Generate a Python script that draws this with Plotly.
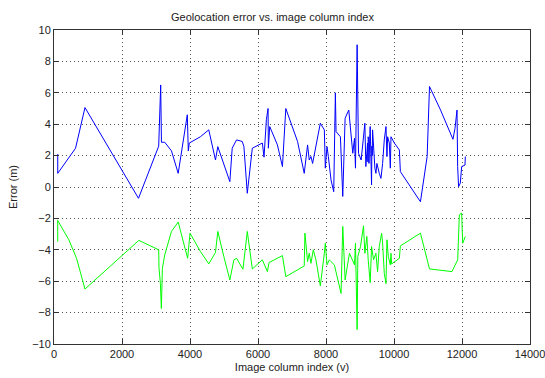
import plotly.graph_objects as go

# Blue series: upper error curve
x_blue = [110, 110, 634, 911, 2485, 3079, 3138, 3160, 3257, 3455, 3653, 3921, 3950, 3980,
          4305, 4552, 4749, 4818, 5172, 5241, 5369, 5537, 5586, 5685, 5833, 6128, 6177, 6246,
          6296, 6305, 6345, 6571, 6719, 6818, 7163, 7360, 7458, 7507, 7557, 7606, 7833, 7951,
          7980, 8030, 8069, 8148, 8227, 8276, 8296, 8424, 8493, 8562, 8670, 8788, 8838, 8867,
          8916, 8936, 8956, 9034, 9143, 9172, 9222, 9232, 9240, 9248, 9256, 9264, 9271, 9280,
          9290, 9300, 9310, 9320, 9330, 9340, 9350, 9360, 9370, 9399, 9438, 9468,
          9497, 9567, 9616, 9665, 9714, 9764, 9793, 9813, 9862, 9892, 9911, 10010, 10158,
          10187, 10778, 10975, 10995, 11044, 11369, 11734, 11794, 11824, 11853, 11872, 11900,
          11950, 11990, 12088, 12098]
y_blue = [2.1, 0.87, 2.47, 5.06, -0.72, 2.6, 6.5, 2.85, 2.85, 2.3, 0.87, 4.6, 2.3, 2.8,
          3.2, 3.64, 1.72, 2.57, 0.34, 2.47, 3.0, 2.9, 2.57, -0.4, 2.47, 2.8, 1.9, 4.28,
          5.0, 2.47, 3.85, 2.68, 1.3, 5.0, 2.9, 0.87, 2.68, 1.72, 1.94, 1.5, 4.06, 3.64,
          1.2, 2.57, 1.94, 0.45, -0.3, 6.0, 3.53, 3.2, -0.6, 4.38, 4.9, 2.15, 3.1, 1.2,
          9.06, 6.0, 2.15, 1.72, 4.06, 1.3, 2.8, 1.6, 3.2, 1.8, 3.0, 1.5, 2.9, 1.9,
          3.4, 3.85, 2.0, 2.8, 1.6, 0.13, 2.6, 2.0, 3.64, 2.15, 1.2, 0.87,
          1.5, 0.87, 0.55, 1.5, 3.0, 3.85, 1.94, 3.2, 2.8, 1.2, 3.2, 2.8, 2.36,
          0.98, -0.94, 1.94, 3.1, 6.4, 4.9, 3.04, 3.74, 4.38, 4.9, 1.3, 0.02,
          0.25, 1.3, 1.4, 1.94]

# Green series: lower error curve
x_green = [109, 109, 436, 663, 911, 2495, 3079, 3089, 3129, 3158, 3188, 3257, 3455, 3653,
           3931, 3950, 4000, 4305, 4552, 4749, 4818, 4995, 5172, 5291, 5369, 5557, 5685,
           5833, 6128, 6276, 6325, 6719, 6818, 7360, 7380, 7458, 7507, 7557, 7626, 7704,
           7833, 7951, 7980, 8030, 8098, 8148, 8246, 8443, 8493, 8562, 8690, 8838, 8867,
           8916, 8936, 9015, 9103, 9143, 9202, 9241, 9300, 9340, 9399, 9468, 9517, 9567,
           9636, 9665, 9714, 9764, 9793, 9833, 9892, 9911, 9931, 10158, 10187, 10778,
           11044, 11704, 11873, 11922, 11990, 12020, 12098]
y_green = [-3.47, -2.13, -3.36, -4.54, -6.5, -3.4, -4.0, -5.18, -6.14, -7.74, -5.18, -4.32,
           -2.83, -2.23, -4.54, -3.9, -2.94, -4.1, -4.9, -4.17, -2.83, -4.43, -5.92, -4.64,
           -4.54, -5.24, -2.83, -5.22, -4.64, -5.39, -4.81, -4.37, -5.71, -5.03, -2.94,
           -4.75, -4.22, -4.86, -4.0, -4.64, -6.3, -4.22, -3.58, -4.96, -4.64, -4.75, -4.96,
           -6.78, -2.51, -5.92, -4.22, -4.96, -3.58, -9.08, -4.43, -3.79, -2.47, -4.22,
           -3.15, -4.64, -6.09, -3.79, -4.64, -4.22, -5.39, -3.79, -2.94, -3.58, -5.5,
           -6.15, -3.36, -4.43, -4.96, -4.22, -4.9, -4.54, -3.75, -2.94, -5.22, -5.39,
           -4.64, -1.77, -1.66, -3.58, -3.15]

title_text = "Geolocation error vs. image column index"
x_label = "Image column index (v)"
y_label = "Error (m)"

font = "Liberation Sans, Arial, sans-serif"

fig = go.Figure()
fig.add_trace(go.Scatter(x=x_blue, y=y_blue, mode="lines",
                         line=dict(color="#0000ff", width=1), showlegend=False))
fig.add_trace(go.Scatter(x=x_green, y=y_green, mode="lines",
                         line=dict(color="#00ff00", width=1), showlegend=False))

axis_common = dict(
    showgrid=True, gridcolor="#555555", griddash="1px,3px", gridwidth=1,
    zeroline=False, showline=True, linecolor="#333333", linewidth=1, mirror="ticks",
    ticks="inside", ticklen=5, tickcolor="#333333", ticklabeloverflow="allow",
    automargin=False,
    tickfont=dict(family=font, size=11, color="#222222"),
)

fig.update_layout(
    width=545, height=378,
    margin=dict(l=54, r=15, t=30, b=34),
    paper_bgcolor="white", plot_bgcolor="white",
    title=dict(text=title_text, x=0.5, xanchor="center", y=0.955, yanchor="middle",
               font=dict(family=font, size=11, color="#222222")),
    xaxis=dict(range=[0, 14000], dtick=2000, tick0=0, tickformat="d",
               title=dict(text=x_label, standoff=4, font=dict(family=font, size=11, color="#222222")),
               **axis_common),
    yaxis=dict(range=[-10, 10], dtick=2, tick0=-10,
               title=dict(text=y_label, standoff=12, font=dict(family=font, size=11, color="#222222")),
               **axis_common),
)

fig.write_html("out.html")
